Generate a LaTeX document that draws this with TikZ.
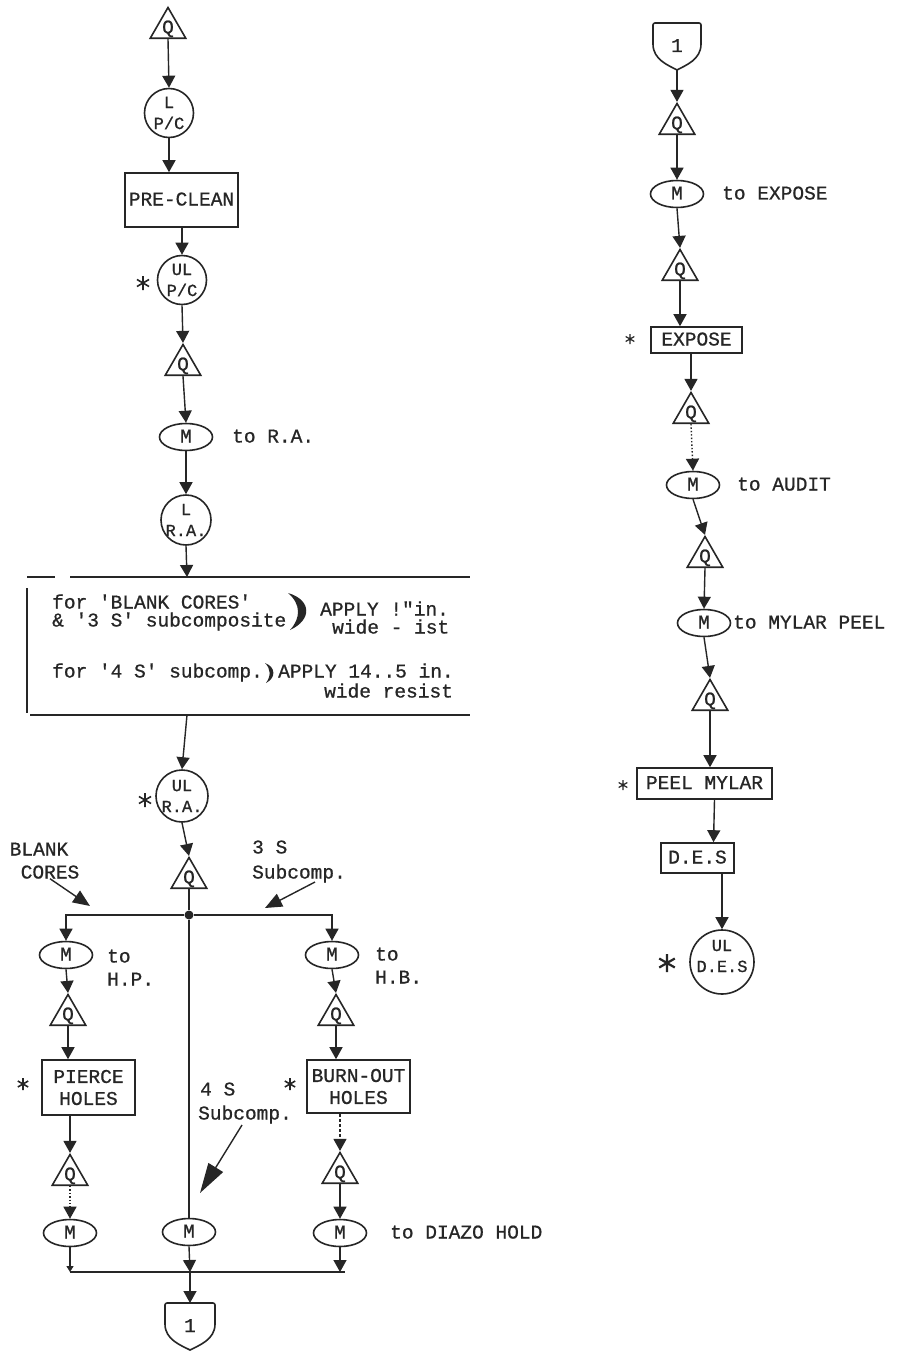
\documentclass[tikz,border=0pt]{standalone}
\usepackage{fontspec}
\newfontfamily\tw[UprightFeatures={FakeBold=0.8}]{Liberation Mono}
\usetikzlibrary{shapes.geometric,arrows.meta}
\newcommand\astx[4][1.6pt]{\draw[draw=black!85,line width=#1] (#2,#3-#4) -- (#2,#3+#4) (#2-0.866*#4,#3-0.5*#4) -- (#2+0.866*#4,#3+0.5*#4) (#2-0.866*#4,#3+0.5*#4) -- (#2+0.866*#4,#3-0.5*#4);}
\newcommand\shieldx[5]{%
 \draw[ink, rounded corners=2pt] (#2-#4/2,#3+0.45*#5) -- (#2-#4/2,#3) -- (#2+#4/2,#3) -- (#2+#4/2,#3+0.45*#5);
 \draw[ink] (#2+#4/2,#3+0.45*#5) .. controls (#2+#4/2,#3+0.78*#5) and (#2+0.18*#4,#3+0.9*#5) .. (#2,#3+#5) .. controls (#2-0.18*#4,#3+0.9*#5) and (#2-#4/2,#3+0.78*#5) .. (#2-#4/2,#3+0.45*#5);
 \coordinate (#1-t) at (#2,#3);
 \coordinate (#1-b) at (#2,#3+#5);
 \node[one] (#1) at (#2,#3+0.5*#5) {1};}
\begin{document}
\begin{tikzpicture}[x=1pt,y=-1pt,
 ink/.style={draw=black!85, line width=1.6pt},
 ttx/.style={font=\tw\fontsize{19.5}{22}\selectfont, inner sep=0pt, text=black!85},
 ctx/.style={font=\tw\fontsize{17}{21}\selectfont, inner sep=0pt, text=black!85, align=center},
 one/.style={ttx, text height=11pt, text depth=0pt},
 tri/.style={regular polygon, regular polygon sides=3, minimum size=41pt, inner sep=0pt, ink},
 circ/.style={circle, minimum size=49pt, inner sep=0pt, ink},
 ell/.style={ellipse, minimum width=53pt, minimum height=27pt, inner sep=0pt, ink, one},
 box/.style={rectangle, inner sep=0pt, ink, ttx, align=center},
 ln/.style={draw=black!85, line width=1.4pt},
 arr/.style={ln, -{Triangle[width=13pt,length=12pt]}},
 larr/.style={ln, -{Triangle[width=14pt,length=17pt]}},
]
\fill[white] (0,0) rectangle (905,1351);
\useasboundingbox (0,0) rectangle (905,1351);

% ---------------- left column ----------------
\node[tri,label={[one]center:Q}] (q1) at (168,28) {};
\node[circ,label={[ctx]center:L\\P/C}] (c1) at (169,113) {};
\node[box,one,minimum width=113pt,minimum height=54pt] (pre) at (181.5,200) {PRE-CLEAN};
\node[circ,label={[ctx]center:UL\\P/C}] (c2) at (182,280) {};
\astx{143}{283}{7}
\node[tri,label={[one]center:Q}] (q2) at (183,365) {};
\node[ell] (m1) at (186,437) {M};
\node[one,anchor=west] (tra) at (232,437) {to R.A.};
\node[circ,minimum size=50pt,label={[ctx]center:L\\R.A.}] (c3) at (186,520) {};

% resist box
\coordinate (rbt) at (187,577);
\coordinate (rbb) at (187,715);
\draw[ln] (27,577) -- (55,577) (70,577) -- (470,577);
\draw[ln] (27,588) -- (27,713);
\draw[ln] (30,715) -- (470,715);
\node[one,anchor=west] (r1) at (52,603) {for \textquotesingle BLANK CORES\textquotesingle};
\node[one,anchor=west] (r2) at (52,621) {\& \textquotesingle 3 S\textquotesingle\ subcomposite};
\fill[black!85] (288,593) .. controls (312,600) and (312,620) .. (290,630) .. controls (301,618) and (301,604) .. (288,593) -- cycle;
\node[one,anchor=west] (r3) at (320,610) {APPLY !\textquotedbl in.};
\node[one,anchor=west] (r4) at (332,628) {wide - ist};
\node[one,anchor=west] (r5) at (52,672) {for \textquotesingle 4 S\textquotesingle\ subcomp.};
\fill[black!85] (265,663) .. controls (276,667) and (276,678) .. (266,683) .. controls (271,676) and (271,669) .. (265,663) -- cycle;
\node[one,anchor=west] (r6) at (278,672) {APPLY 14..5 in.};
\node[one,anchor=west] (r7) at (324,692) {wide resist};

\node[circ,minimum size=52pt,label={[ctx]center:UL\\R.A.}] (c4) at (182,796) {};
\astx{145}{800}{7}
\node[tri,label={[one]center:Q}] (q3) at (189,878) {};
\node[circle,fill=black!85,minimum size=9pt,inner sep=0pt] (j) at (189,915) {};

\node[one] (blank) at (39,850) {BLANK};
\node[one] (cores) at (50,873) {CORES};
\node[one,anchor=west] (s3a) at (252,848) {3 S};
\node[one,anchor=west] (s3b) at (252,873) {Subcomp.};
\coordinate (ta) at (90,906);
\coordinate (tb0) at (315,882);
\coordinate (tb) at (265,908);

% left branch
\node[ell] (m2) at (66,955) {M};
\node[one,anchor=west] (hp1) at (107,957) {to};
\node[one,anchor=west] (hp2) at (107,980) {H.P.};
\node[tri,label={[one]center:Q}] (q4) at (68,1015) {};
\node[box,minimum width=93pt,minimum height=55pt] (pierce) at (88.5,1087.5) {PIERCE\\HOLES};
\astx{23}{1084}{6}
\node[tri,label={[one]center:Q}] (q5) at (70,1175) {};
\node[ell] (m5) at (70,1233) {M};

% right branch
\node[ell] (m3) at (332,955) {M};
\node[one,anchor=west] (hb1) at (375,955) {to};
\node[one,anchor=west] (hb2) at (375,978) {H.B.};
\node[tri,label={[one]center:Q}] (q6) at (336,1015) {};
\node[box,minimum width=103pt,minimum height=53pt] (burn) at (358.5,1086.5) {BURN-OUT\\HOLES};
\astx{290}{1084}{6}
\node[tri,label={[one]center:Q}] (q7) at (340,1173) {};
\node[ell] (m7) at (340,1233) {M};
\node[one,anchor=west] (diazo) at (390,1233) {to DIAZO HOLD};

% centre branch
\node[one,anchor=west] (s4a) at (200,1090) {4 S};
\node[one,anchor=west] (s4b) at (198,1114) {Subcomp.};
\coordinate (tc0) at (242,1125);
\coordinate (tc) at (200,1193);
\node[ell] (m6) at (189,1232) {M};
\coordinate (hb) at (190,1272);
\shieldx{sh2}{190}{1303}{50}{47}

% ---------------- right column ----------------
\shieldx{sh1}{677}{23}{48}{47}
\node[tri,label={[one]center:Q}] (qr1) at (677,124) {};
\node[ell] (mr1) at (677,194) {M};
\node[one,anchor=west] (tex) at (722,194) {to EXPOSE};
\node[tri,label={[one]center:Q}] (qr2) at (680,270) {};
\node[box,one,minimum width=91pt,minimum height=26pt] (expose) at (696.5,340) {EXPOSE};
\astx[1.2pt]{630}{339}{5}
\node[tri,label={[one]center:Q}] (qr3) at (691,413) {};
\node[ell] (mr2) at (693,485) {M};
\node[one,anchor=west] (taud) at (737,485) {to AUDIT};
\node[tri,label={[one]center:Q}] (qr4) at (705,557) {};
\node[ell] (mr3) at (704,623) {M};
\node[one,anchor=west] (tmyl) at (733,623) {to MYLAR PEEL};
\node[tri,label={[one]center:Q}] (qr5) at (710,700) {};
\node[box,one,minimum width=135pt,minimum height=31pt] (peel) at (704.5,783.5) {PEEL MYLAR};
\astx[1.2pt]{623}{785}{5}
\node[box,one,minimum width=73pt,minimum height=30pt] (des) at (697.5,858) {D.E.S};
\node[circ,minimum size=64pt,label={[ctx,yshift=6pt]center:UL\\D.E.S}] (cr) at (722,962) {};
\astx[2.2pt]{667}{963}{9}

% ---------------- connectors ----------------
\draw[arr] (q1.south) -- (c1.north);
\draw[arr] (c1.south) -- (c1.south |- pre.north);
\draw[arr] (c2.north |- pre.south) -- (c2.north);
\draw[arr] (c2.south) -- (q2.north);
\draw[arr] (q2.south) -- (m1.north);
\draw[arr] (m1.south) -- (c3.north);
\draw[arr] (c3.south) -- (rbt);
\draw[arr] (rbb) -- (c4.north);
\draw[arr] (c4.south) -- (q3.north);
\draw[ln] (q3.south) -- (j);
\draw[arr] (j) -- (j -| m2.north) -- (m2.north);
\draw[arr] (j) -- (j -| m3.north) -- (m3.north);
\draw[ln] (j) -- (m6.north);
\draw[larr] (cores.south) -- (ta);
\draw[larr] (tb0) -- (tb);
\draw[ln, -{Triangle[width=17pt,length=30pt]}] (tc0) -- (tc);

\draw[arr] (m2.south) -- (q4.north);
\draw[arr] (q4.south) -- (q4.south |- pierce.north);
\draw[arr] (q5.north |- pierce.south) -- (q5.north);
\draw[arr, dotted] (q5.south) -- (m5.north);
\draw[arr] (m3.south) -- (q6.north);
\draw[arr] (q6.south) -- (q6.south |- burn.north);
\draw[arr, densely dashed] (q7.north |- burn.south) -- (q7.north);
\draw[arr] (q7.south) -- (m7.north);

\draw[ln] (m5.south |- hb) -- ([xshift=5pt]m7.south |- hb);
\draw[ln, -{Triangle[width=7pt,length=6pt]}] (m5.south) -- (m5.south |- hb);
\draw[arr] (m6.south) -- (hb);
\draw[arr] (m7.south) -- (m7.south |- hb);
\draw[arr] (hb) -- (sh2-t);

\draw[arr] (sh1-b) -- (qr1.north);
\draw[arr] (qr1.south) -- (mr1.north);
\draw[arr] (mr1.south) -- (qr2.north);
\draw[arr] (qr2.south) -- (qr2.south |- expose.north);
\draw[arr] (qr3.north |- expose.south) -- (qr3.north);
\draw[arr, dotted] (qr3.south) -- (mr2.north);
\draw[arr] (mr2.south) -- (qr4.north);
\draw[arr] (qr4.south) -- (mr3.north);
\draw[arr] (mr3.south) -- (qr5.north);
\draw[arr] (qr5.south) -- (qr5.south |- peel.north);
\draw[arr] ([xshift=10pt]peel.south) -- ([xshift=16pt]des.north);
\draw[arr] (cr.north |- des.south) -- (cr.north);
\end{tikzpicture}
\end{document}
